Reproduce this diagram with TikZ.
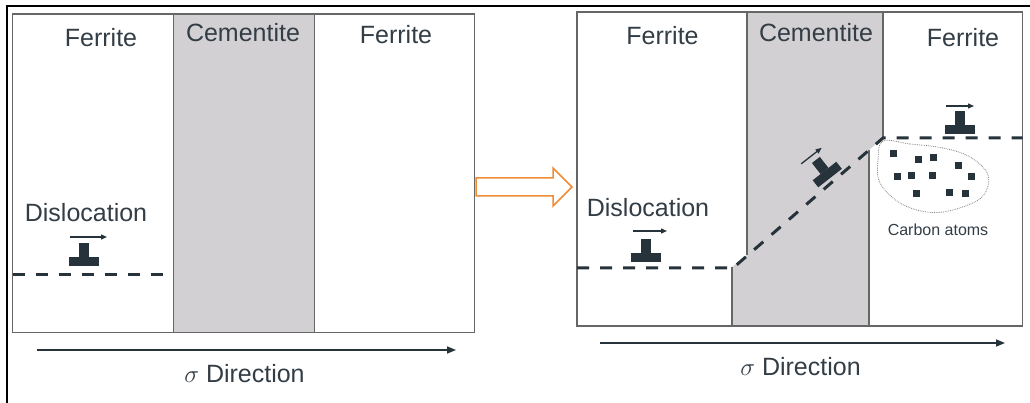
\documentclass[tikz,border=0pt]{standalone}
\usepackage{fontspec}
\setmainfont{Liberation Sans}
\usetikzlibrary{arrows.meta}
\definecolor{txt}{HTML}{333D45}
\definecolor{ink}{HTML}{27333B}
\definecolor{edge}{HTML}{666666}
\definecolor{cem}{HTML}{D2D0D2}
\definecolor{orng}{HTML}{F08C34}
\tikzset{
  lbl/.style={font=\fontsize{25}{30}\selectfont, text=txt, inner sep=0pt, anchor=center},
  smalllbl/.style={font=\fontsize{16}{19}\selectfont, text=txt, inner sep=0pt, anchor=center},
  panel/.style={draw=edge, line width=1.4pt},
  slip/.style={draw=ink, line width=3pt, dash pattern=on 12pt off 11pt},
  dirarrow/.style={draw=ink, line width=1.5pt, -{Triangle[length=9pt,width=7pt]}},
  motion/.style={draw=ink, line width=1.3pt, -{Triangle[length=6pt,width=5pt]}},
  blob/.style={draw=gray, densely dotted, line width=0.8pt},
  pics/disl/.style={code={
    \fill[ink] (-5,-14) rectangle (5,0);
    \fill[ink] (-15,0) rectangle (15,9);
  }},
}
\begin{document}
\begin{tikzpicture}[x=1pt,y=-1pt]
\useasboundingbox (0,0) rectangle (1030,403);
% outer frame
\draw[black, line width=2pt] (7.3,403) -- (7.3,6) -- (1030,6);

% ---------- left panel ----------
\fill[cem] (173.7,14) rectangle (314.3,332.7);
\draw[panel] (12.7,14) rectangle (474.7,332.7);
\draw[panel] (173.7,14) -- (173.7,332.7);
\draw[panel] (314.3,14) -- (314.3,332.7);
\node[lbl] (lfa) at (101,37.5) {Ferrite};
\node[lbl] (lcem) at (243,32.5) {Cementite};
\node[lbl] (lfb) at (396,35) {Ferrite};
\node[lbl] (ldis) at (86,212.5) {Dislocation};
\pic at (84,257) {disl};
\coordinate (la1) at (70,237);
\coordinate (la2) at (107,237);
\draw[motion] (la1) -- (la2);
\coordinate (ls1) at (12.7,274);
\coordinate (ls2) at (167,274);
\draw[slip] (ls1) -- (ls2);
\coordinate (ld1) at (37,350);
\coordinate (ld2) at (456,350);
\draw[dirarrow] (ld1) -- (ld2);
\node[lbl] (ldir) at (244.5,373.5) {$\sigma$ Direction};

% ---------- transition arrow ----------
\draw[orng, line width=1.5pt, fill=white, line join=miter]
  (476,178) -- (553,178) -- (553,168) -- (572,187) -- (553,206) -- (553,196) -- (476,196) -- cycle;

% ---------- right panel ----------
\fill[cem] (747,12) -- (883,12) -- (883,138) -- (869,150) -- (869,326)
  -- (732,326) -- (732,267) -- (747,255) -- cycle;
\draw[panel] (577,12) rectangle (1022.7,326);
\draw[panel] (747,12) -- (747,255);
\draw[panel] (732,267) -- (732,326);
\draw[panel] (883,12) -- (883,138);
\draw[panel] (869,150) -- (869,326);
\node[lbl] (rfa) at (662.5,35.5) {Ferrite};
\node[lbl] (rcem) at (816,32.5) {Cementite};
\node[lbl] (rfb) at (963,38) {Ferrite};
\node[lbl] (rdis) at (648,207.5) {Dislocation};

\pic at (646,253) {disl};
\coordinate (ra1) at (633,231);
\coordinate (ra2) at (667,231);
\draw[motion] (ra1) -- (ra2);

\pic at (960,125) {disl};
\coordinate (rb1) at (946,106);
\coordinate (rb2) at (974,106);
\draw[motion] (rb1) -- (rb2);

\begin{scope}[shift={(824.5,171)}, rotate=38]
  \pic[transform shape] {disl};
  \coordinate (rc1) at (-14,-20);
  \coordinate (rc2) at (12,-20);
  \draw[motion] (rc1) -- (rc2);
\end{scope}

\coordinate (rs1) at (577,268);
\coordinate (rs2) at (733,268);
\coordinate (rs3) at (883,138);
\coordinate (rs4) at (1022.7,138);
\draw[slip] (rs1) -- (rs2) -- (rs3) -- (rs4);

% carbon atoms
\draw[blob] plot[smooth cycle, tension=0.6] coordinates {
  (883,141) (910,144) (943,148) (970,157) (988,175) (982,197)
  (953,210) (927,212) (900,203) (880,183) (878,160)};
\foreach \p in {(893,154),(918,160),(933,158),(958,166),(897,177),(911,176),
                (932,176),(971,177),(916,194),(949,193),(965,194)}
  \fill[ink] \p +(-3.5,-3.5) rectangle +(3.5,3.5);
\node[smalllbl] (carb) at (938,230) {Carbon atoms};

\coordinate (rd1) at (600,343);
\coordinate (rd2) at (1005,343);
\draw[dirarrow] (rd1) -- (rd2);
\node[lbl] (rdir) at (800.5,366.5) {$\sigma$ Direction};
\end{tikzpicture}
\end{document}
